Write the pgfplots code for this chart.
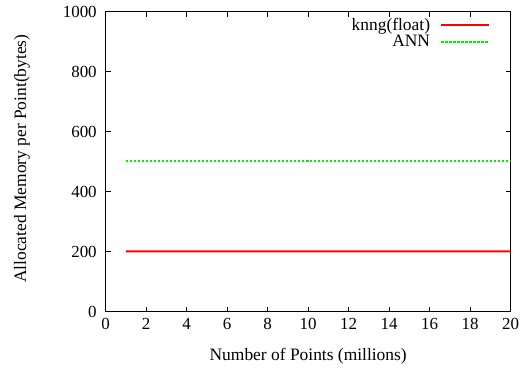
\documentclass[border=0pt]{standalone}
\usepackage{pgfplots}
\pgfplotsset{compat=1.18}
\usepackage{fontspec}
\setmainfont{Liberation Serif}
\definecolor{gpred}{RGB}{255,0,0}
\definecolor{gpgreen}{RGB}{0,235,0}
\begin{document}
\fontsize{17.5}{20}\selectfont
\begin{tikzpicture}
\path[use as bounding box] (-105.7bp,-58.3bp) rectangle (420.3bp,311.7bp);
\begin{axis}[
  at={(0,0)}, anchor=south west,
  scale only axis, width=405bp, height=300bp,
  xmin=0, xmax=20, ymin=0, ymax=1000,
  xtick={0,2,...,20}, ytick={0,200,...,1000},
  tick align=inside, tick pos=both,
  major tick length=5bp,
  axis line style={line width=0.9pt},
  tick style={line width=0.6pt, black},
  /pgf/number format/assume math mode=true,
  /pgf/number format/1000 sep={},
  ticklabel style={font=\fontsize{17}{20}\selectfont},
  xticklabel style={yshift=-1bp},
  yticklabel style={xshift=-3bp},
  label style={font=\fontsize{17.5}{20}\selectfont},
  xlabel={Number of Points (millions)},
  ylabel={Allocated Memory per Point(bytes)},
  xlabel style={at={(axis description cs:0.5,-0.15)}, anchor=center},
  ylabel style={at={(axis description cs:-0.207,0.51)}, anchor=center},
  legend style={draw=none, fill=none, at={(0.952,0.99)}, anchor=north east,
    font=\fontsize{17.5}{20}\selectfont, inner sep=1bp, row sep=-2bp},
  legend cell align=right,
  legend plot pos=right,
  legend image code/.code={\path (0bp,0bp); \draw[#1] (8bp,0cm) -- (56bp,0cm);},
]
\addplot[draw=gpred, line width=2pt, line join=round] coordinates {(1,201.3) (5,201) (10,201.2) (15,200.9) (20,200.7)};
\addlegendentry{knng(float)}
\addplot[draw=gpgreen, line width=2pt, dash pattern=on 2.5bp off 1.5bp] coordinates {(1,503) (5,503) (10,503) (15,503) (20,503)};
\addlegendentry{ANN}
\end{axis}
\end{tikzpicture}
\end{document}
